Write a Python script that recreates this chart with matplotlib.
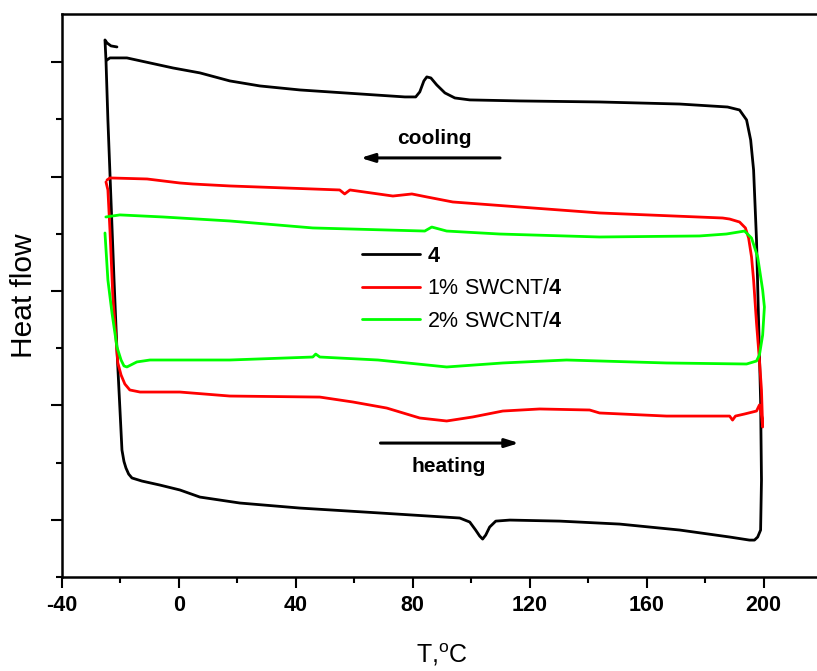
import matplotlib
matplotlib.use("Agg")
import matplotlib.pyplot as plt
from matplotlib.ticker import MultipleLocator, NullFormatter

plt.rcParams["font.family"] = ["Liberation Sans", "DejaVu Sans"]
plt.rcParams["mathtext.fontset"] = "custom"
plt.rcParams["mathtext.rm"] = "Liberation Sans"
plt.rcParams["mathtext.bf"] = "Liberation Sans:bold"
plt.rcParams["axes.unicode_minus"] = False

# sample 4 (cooling/heating loop)
t_4 = [-21.2, -23.25, -24.6, -25.3, -24.96, -24.3, -23.25, -22.2, -21.2, -20.17, -19.49, -18.8,
       -18.12, -17.2, -16.07, -12.65, -6.5, 0.34, 7.18, 20.85, 41.37, 68.72, 96.07, 99.49, 101.5,
       102.9, 103.9, 104.96, 106.3, 108.4, 113.2, 130.3, 150.8, 171.3, 188.4, 195.2, 196.9, 198.0,
       199.0, 199.3, 199.0, 198.3, 197.6, 196.6, 195.6, 194.2, 191.8, 187.7, 171.3, 143.9, 116.6,
       99.5, 94.4, 91.0, 88.2, 86.2, 84.8, 83.8, 82.4, 81.0, 77.3, 56.7, 41.4, 27.7, 17.4, 7.2,
       -2.0, -9.9, -17.8, -23.6, -24.6]
hf_4 = [5.133, 5.142, 5.168, 5.194, 5.019, 4.495, 3.796, 3.096, 2.484, 1.960, 1.610, 1.510,
        1.453, 1.400, 1.366, 1.339, 1.304, 1.261, 1.199, 1.147, 1.103, 1.060, 1.016, 0.981, 0.911,
        0.858, 0.832, 0.867, 0.937, 0.989, 0.998, 0.989, 0.963, 0.911, 0.850, 0.823, 0.823, 0.850,
        0.911, 1.348, 2.047, 2.747, 3.446, 4.058, 4.320, 4.495, 4.582, 4.608, 4.634, 4.652, 4.661,
        4.670, 4.687, 4.731, 4.801, 4.862, 4.871, 4.836, 4.740, 4.696, 4.696, 4.731, 4.757, 4.792,
        4.836, 4.906, 4.949, 4.993, 5.037, 5.037, 5.019]

# 1% SWCNT/4
t_1 = [-24.96, -24.3, -23.6, -22.6, -21.5, -20.9, -19.8, -18.5, -16.8, -13.3, 0.3, 17.4, 48.2,
       59.5, 71.1, 82.4, 91.6, 100.5, 110.8, 123.4, 140.5, 143.9, 166.8, 186.0, 188.4, 189.4,
       190.4, 193.5, 197.6, 198.6, 199.3, 199.7, 199.3, 198.6, 197.6, 196.6, 195.9, 194.9, 193.8,
       191.8, 188.4, 186.0, 143.9, 116.6, 93.7, 84.8, 79.7, 73.2, 58.5, 56.7, 55.0, 17.4, 4.8,
       0.3, -10.9, -23.6, -24.6]
hf_1 = [3.953, 3.883, 3.533, 2.948, 2.572, 2.371, 2.266, 2.187, 2.135, 2.117, 2.117, 2.082, 2.073,
        2.030, 1.977, 1.890, 1.864, 1.899, 1.951, 1.969, 1.960, 1.934, 1.907, 1.907, 1.907, 1.872,
        1.907, 1.925, 1.951, 2.004, 1.925, 1.811, 2.135, 2.397, 2.720, 3.096, 3.297, 3.463, 3.551,
        3.603, 3.629, 3.638, 3.682, 3.734, 3.778, 3.822, 3.848, 3.830, 3.883, 3.848, 3.883, 3.918,
        3.935, 3.944, 3.979, 3.988, 3.970]

# 2% SWCNT/4
t_2 = [-25.3, -24.3, -22.9, -21.2, -19.8, -18.8, -17.8, -14.4, -9.9, 17.4, 45.8, 46.8, 48.2, 68.1,
       91.6, 110.8, 132.6, 166.8, 194.2, 197.6, 198.6, 199.7, 200.3, 199.7, 198.0, 195.9, 193.5,
       187.3, 178.1, 143.9, 109.7, 91.6, 86.5, 84.1, 45.8, 17.4, -5.5, -20.2, -25.0]
hf_2 = [3.507, 3.096, 2.808, 2.510, 2.397, 2.345, 2.336, 2.380, 2.397, 2.397, 2.423, 2.449, 2.423,
        2.397, 2.336, 2.371, 2.397, 2.371, 2.362, 2.388, 2.441, 2.615, 2.860, 3.009, 3.297, 3.463,
        3.524, 3.498, 3.481, 3.472, 3.498, 3.524, 3.559, 3.524, 3.551, 3.612, 3.647, 3.665, 3.647]

labels = [r"$\mathbf{4}$", r"1% SWCNT/$\mathbf{4}$", r"2% SWCNT/$\mathbf{4}$"]
colors = ["black", "#ff0000", "#00ff00"]

fig = plt.figure(figsize=(8.17, 6.71), dpi=100)
ax = fig.add_axes([0.0759, 0.140, 0.9302, 0.839])

for t, hf, lab, c in zip([t_4, t_1, t_2], [hf_4, hf_1, hf_2], labels, colors):
    ax.plot(t, hf, color=c, lw=2.0, label=lab, solid_joinstyle="round", solid_capstyle="round")

ax.set_xlim(-40, 220)
ax.set_ylim(0.5, 5.42)
ax.xaxis.set_major_locator(MultipleLocator(40))
ax.xaxis.set_minor_locator(MultipleLocator(20))
ax.yaxis.set_major_locator(MultipleLocator(1))
ax.yaxis.set_minor_locator(MultipleLocator(0.5))
ax.yaxis.set_major_formatter(NullFormatter())
ax.tick_params(which="major", length=8, width=1.5, direction="out", labelsize=15.5, pad=5)
ax.tick_params(which="minor", length=4, width=1.5, direction="out")
for lbl in ax.get_xticklabels():
    lbl.set_fontweight("bold")
for sp in ax.spines.values():
    sp.set_linewidth(1.8)

ax.set_xlabel(r"T,$^{\mathrm{o}}$C", fontsize=18, labelpad=18)
ax.set_ylabel("Heat flow", fontsize=21.5, labelpad=4)

ax.annotate("", xy=(61.2, 4.163), xytext=(110.8, 4.163),
            arrowprops=dict(arrowstyle="-|>,head_length=0.8,head_width=0.25", color="black", lw=2.2))
ax.text(87.5, 4.337, "cooling", fontsize=15, fontweight="bold", ha="center", va="center")
ax.annotate("", xy=(117.3, 1.671), xytext=(68.0, 1.671),
            arrowprops=dict(arrowstyle="-|>,head_length=0.8,head_width=0.25", color="black", lw=2.2))
ax.text(92.3, 1.462, "heating", fontsize=15, fontweight="bold", ha="center", va="center")

ax.legend(loc="upper left", bbox_to_anchor=(0.3947, 0.588), frameon=False, fontsize=15.5,
          handlelength=2.7, handletextpad=0.33, labelspacing=0.53, borderpad=0, borderaxespad=0)

fig.savefig("out.png", dpi=100)
